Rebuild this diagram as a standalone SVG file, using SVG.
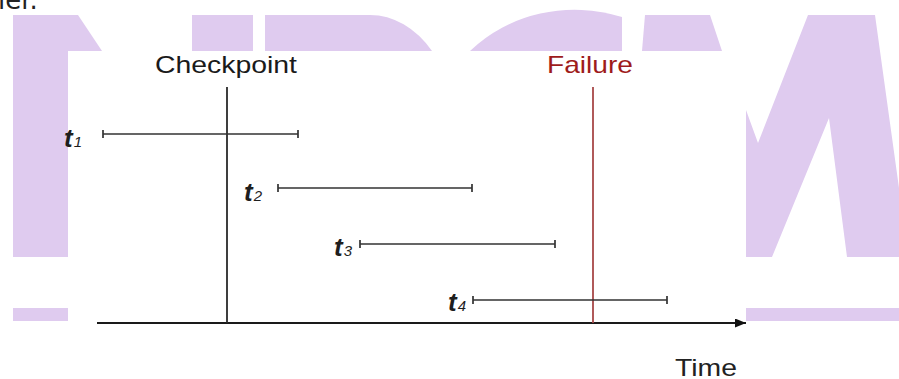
<svg xmlns="http://www.w3.org/2000/svg" width="899" height="379" viewBox="0 0 899 379">
<defs>
<marker id="arr" markerWidth="11" markerHeight="9" refX="11" refY="4.5" orient="auto" markerUnits="userSpaceOnUse"><path d="M0,0 L11,4.5 L0,9 Z" fill="#111"/></marker>
</defs>
<style>
.wm{fill:#dfcbef}
.lbl{font-family:"Liberation Sans",Arial,sans-serif;font-size:24px}
.iv{stroke:#333;stroke-width:1.7;fill:none}
.mk{stroke-width:1.8;fill:none}
.tl{font-family:"Liberation Sans",Arial,sans-serif;font-style:italic;font-weight:bold;font-size:26px;fill:#1e1e1e}
.sub{font-size:15px;font-weight:normal}
</style>
<rect width="899" height="379" fill="#fff"/>
<text x="-2" y="9" font-family="'DejaVu Sans',sans-serif" font-size="26" fill="#222">ier.</text>
<g id="watermark" class="wm">
<path d="M13,15 H78 L102,51 H68 V257 H13 Z"/>
<rect x="192" y="15" width="61" height="36"/>
<path d="M265,15 H370 A87,121 0 0 1 432,51 H265 Z"/>
<path d="M470,51 A142,127 0 0 1 622,17 V51 Z"/>
<path d="M645,15 H710 L722,51 H642 Z"/>
<path d="M746,110 L758,143 L808,15 H875 L899,188 V257 H847 L829,118 L772,257 H746 Z"/>
<rect x="13" y="308" width="55" height="13"/>
<rect x="746" y="308" width="153" height="13"/>
</g>
<rect id="panel" x="68" y="51" width="678" height="328" fill="#fff"/>
<g id="connectors">
<line x1="97" y1="323" x2="746" y2="323" stroke="#1a1a1a" stroke-width="2" marker-end="url(#arr)"/>
</g>
<g id="checkpoint">
<text class="lbl" x="226" y="73" text-anchor="middle" textLength="142" lengthAdjust="spacingAndGlyphs" fill="#1a1a1a">Checkpoint</text>
<line class="mk" x1="227" y1="87" x2="227" y2="323" stroke="#2a2a2a"/>
</g>
<g id="failure">
<text class="lbl" x="590" y="73" text-anchor="middle" textLength="86" lengthAdjust="spacingAndGlyphs" fill="#9e1b1b">Failure</text>
<line class="mk" x1="593" y1="87" x2="593" y2="323" stroke="#a84848" stroke-width="1.6"/>
</g>
<g id="t1">
<text class="tl" x="64" y="147">t<tspan class="sub" dx="1">1</tspan></text>
<path class="iv" d="M103,134 H298 M103,130 V138 M298,130 V138"/>
</g>
<g id="t2">
<text class="tl" x="244" y="201">t<tspan class="sub" dx="1">2</tspan></text>
<path class="iv" d="M278,188 H472 M278,184 V192 M472,184 V192"/>
</g>
<g id="t3">
<text class="tl" x="334" y="256">t<tspan class="sub" dx="1">3</tspan></text>
<path class="iv" d="M360,244 H555 M360,240 V248 M555,240 V248"/>
</g>
<g id="t4">
<text class="tl" x="448" y="311">t<tspan class="sub" dx="1">4</tspan></text>
<path class="iv" d="M473,300 H667 M473,296 V304 M667,296 V304"/>
</g>
<text class="lbl" x="706" y="375.5" text-anchor="middle" textLength="62" lengthAdjust="spacingAndGlyphs" fill="#222">Time</text>
</svg>
